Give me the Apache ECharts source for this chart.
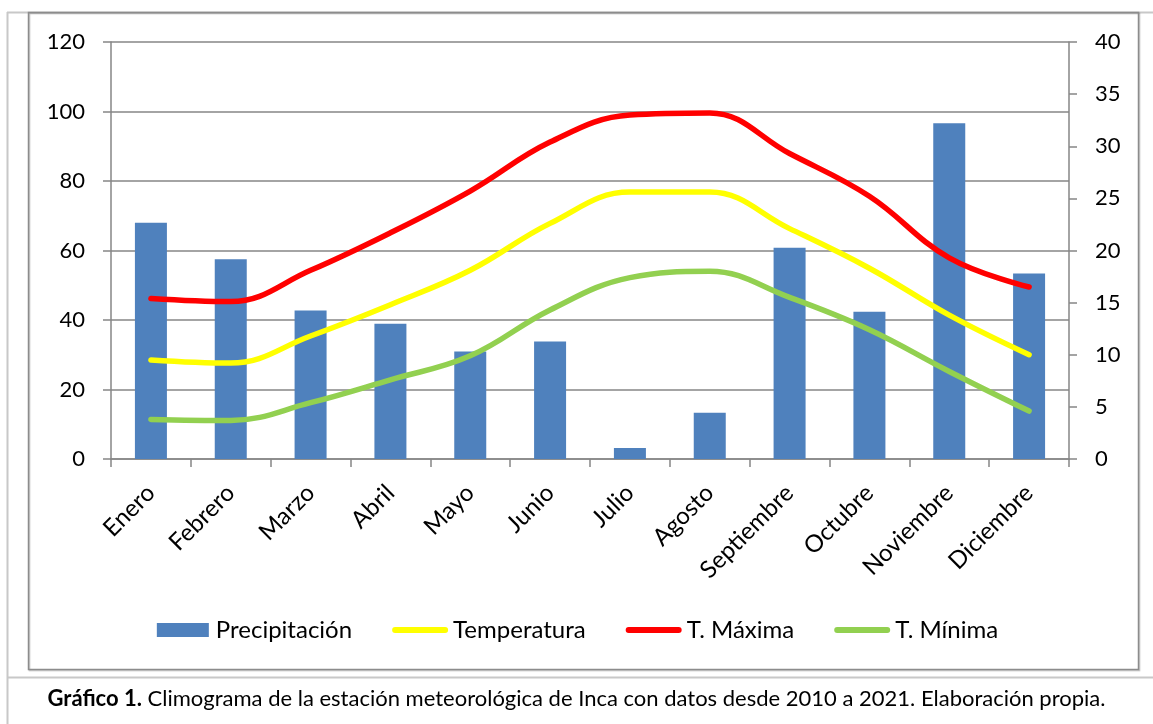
<!DOCTYPE html>
<html>
<head>
<meta charset="utf-8">
<script src="https://cdn.jsdelivr.net/npm/echarts@6/dist/echarts.min.js"></script>
<style>
  html, body { margin: 0; padding: 0; background: #fff; }
  #chart { width: 1153px; height: 724px; }
</style>
</head>
<body>
<div id="chart"></div>
<script>
// climograma Inca 2010-2021
var meses = ['Enero', 'Febrero', 'Marzo', 'Abril', 'Mayo', 'Junio', 'Julio', 'Agosto', 'Septiembre', 'Octubre', 'Noviembre', 'Diciembre'];
var precipitacion = [68.0, 57.5, 42.7, 38.9, 30.9, 33.8, 3.2, 13.3, 60.8, 42.4, 96.6, 53.4];
var temperatura = [9.5, 9.2, 11.8, 14.8, 18.1, 22.6, 25.6, 25.6, 22.1, 18.3, 13.8, 10.0];
var tMaxima = [15.4, 15.1, 18.1, 21.7, 25.7, 30.4, 33.0, 33.2, 29.3, 25.2, 19.3, 16.5];
var tMinima = [3.8, 3.7, 5.4, 7.6, 9.9, 14.3, 17.4, 18.0, 15.5, 12.4, 8.4, 4.6];

var font = 'Lato';
var axisGray = '#868686';

// iconos de leyenda (caja 56x14, los puntos de las esquinas fijan el tamaño)
var corners = 'M0,0h0.01v0.01h-0.01z M56,14h-0.01v-0.01h0.01z ';
var iconBar = 'path://' + corners + 'M2,0h52v14h-52z';
var iconLine = 'path://' + corners + 'M3,4h50a3,3 0 0 1 0,6h-50a3,3 0 0 1 0,-6z';

var chart = echarts.init(document.getElementById('chart'));

function lineSerie(name, data, color) {
  return {
    name: name,
    type: 'line',
    yAxisIndex: 1,
    data: data,
    smooth: 0.4,
    symbol: 'none',
    lineStyle: { color: color, width: 5.5, cap: 'round' },
    itemStyle: { color: color },
    z: 3
  };
}

chart.setOption({
  animation: false,
  textStyle: { fontFamily: font },
  graphic: [
    // marco de la tabla
    { type: 'line', shape: { x1: 7, y1: 12.5, x2: 1153, y2: 12.5 }, style: { stroke: '#c8c8c8', lineWidth: 2 } },
    { type: 'line', shape: { x1: 7.5, y1: 12, x2: 7.5, y2: 724 }, style: { stroke: '#c8c8c8', lineWidth: 2 } },
    { type: 'line', shape: { x1: 7, y1: 677.5, x2: 1153, y2: 677.5 }, style: { stroke: '#c8c8c8', lineWidth: 2 } },
    // recuadro del grafico
    { type: 'rect', shape: { x: 28.5, y: 12.5, width: 1110, height: 657 },
      style: { fill: 'none', stroke: '#8c8c8c', lineWidth: 1.5, shadowColor: 'rgba(0,0,0,0.25)', shadowOffsetX: 1, shadowOffsetY: 1, shadowBlur: 1 } },
    {
      type: 'text', left: 'center', top: 688,
      style: {
        text: '{b|Gráfico 1.} Climograma de la estación meteorológica de Inca con datos desde 2010 a 2021. Elaboración propia.',
        rich: {
          b: { fontFamily: font, fontSize: 22, fontWeight: 'bold', fill: '#000' }
        },
        fontFamily: font, fontSize: 22, fill: '#000'
      }
    }
  ],
  legend: {
    left: 'center',
    top: 613,
    itemWidth: 56,
    itemHeight: 14,
    itemGap: 40,
    textStyle: { fontFamily: font, fontSize: 24, color: '#000' },
    data: [
      { name: 'Precipitación', icon: iconBar },
      { name: 'Temperatura', icon: iconLine },
      { name: 'T. Máxima', icon: iconLine },
      { name: 'T. Mínima', icon: iconLine }
    ]
  },
  grid: { left: 111, right: 84, top: 42, bottom: 265 },
  xAxis: {
    type: 'category',
    data: meses,
    boundaryGap: true,
    axisLine: { lineStyle: { color: axisGray, width: 1.5 } },
    axisTick: { show: true, length: 8, lineStyle: { color: axisGray, width: 1.5 } },
    axisLabel: { rotate: 45, margin: 30, fontSize: 24, color: '#000', fontFamily: font, interval: 0 }
  },
  yAxis: [
    {
      type: 'value', min: 0, max: 120, interval: 20,
      axisLine: { show: true, lineStyle: { color: axisGray, width: 1.5 } },
      axisTick: { show: true, length: 8, lineStyle: { color: axisGray, width: 1.5 } },
      axisLabel: { margin: 26, fontSize: 22, color: '#000', fontFamily: font },
      splitLine: { lineStyle: { color: axisGray, width: 1.5 } }
    },
    {
      type: 'value', min: 0, max: 40, interval: 5, position: 'right',
      axisLine: { show: true, lineStyle: { color: axisGray, width: 1.5 } },
      axisTick: { show: true, length: 8, lineStyle: { color: axisGray, width: 1.5 } },
      axisLabel: { margin: 26, fontSize: 22, color: '#000', fontFamily: font },
      splitLine: { show: false }
    }
  ],
  series: [
    {
      name: 'Precipitación',
      type: 'bar',
      data: precipitacion,
      barWidth: 32,
      itemStyle: { color: '#4F81BD' },
      z: 2
    },
    lineSerie('Temperatura', temperatura, '#FFFF00'),
    lineSerie('T. Máxima', tMaxima, '#FF0000'),
    lineSerie('T. Mínima', tMinima, '#92D050')
  ]
});
</script>
</body>
</html>
